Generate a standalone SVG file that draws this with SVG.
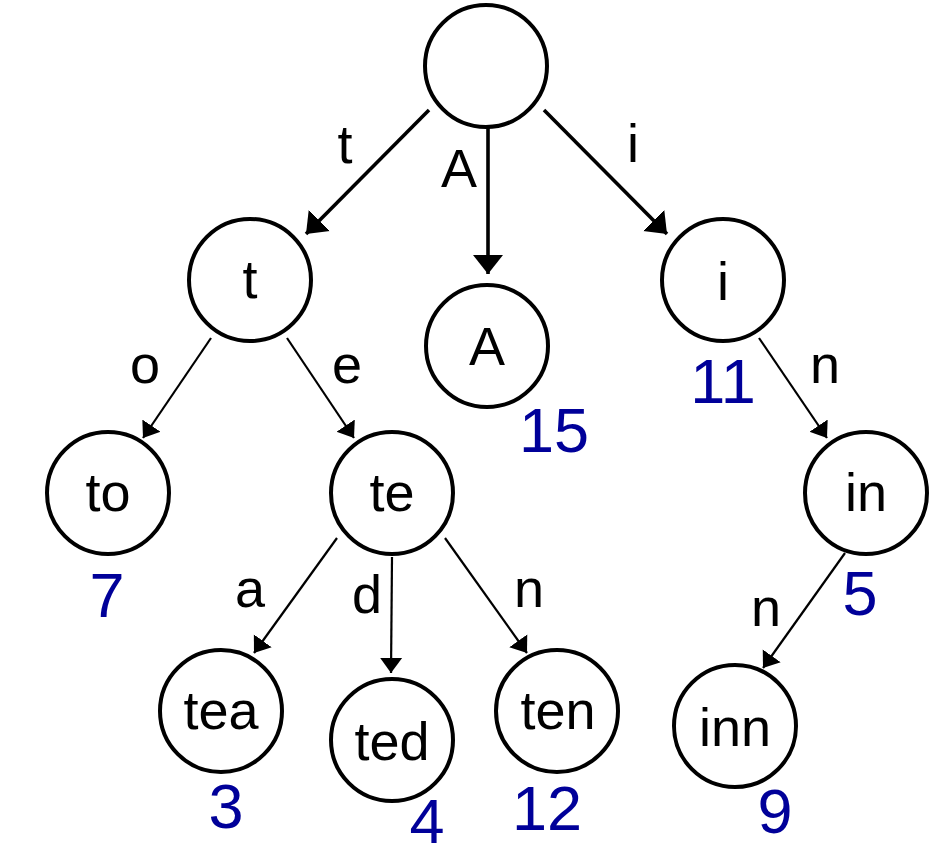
<svg xmlns="http://www.w3.org/2000/svg" width="944" height="852" viewBox="0 0 944 852">
<style>
.node circle{fill:#fff;stroke:#000;stroke-width:4}
text{font-family:"Liberation Sans",Arial,sans-serif;text-anchor:middle}
.lbl{font-size:54px;fill:#000}
.num{font-size:63px;fill:#000099}
.thick{stroke:#000;stroke-width:3.6;fill:none;marker-end:url(#ah1)}
.thin{stroke:#000;stroke-width:2.2;fill:none;marker-end:url(#ah2)}
</style>
<defs>
<marker id="ah1" markerUnits="userSpaceOnUse" markerWidth="20" markerHeight="32" viewBox="0 0 20 32" refX="19" refY="16" orient="auto"><path d="M0,1 L19,16 L0,31 Z" fill="#000"/></marker>
<marker id="ah2" markerUnits="userSpaceOnUse" markerWidth="16" markerHeight="24" viewBox="0 0 16 24" refX="15" refY="12" orient="auto"><path d="M0,1 L15,12 L0,23 Z" fill="#000"/></marker>
</defs>
<rect width="944" height="852" fill="#fff"/>
<g id="connectors">
<line class="thick" x1="429" y1="110" x2="306" y2="234"/>
<line class="thick" x1="488" y1="127" x2="488" y2="274"/>
<line class="thick" x1="544" y1="110" x2="667" y2="234"/>
<line class="thin" x1="211" y1="338" x2="143" y2="438"/>
<line class="thin" x1="287" y1="338" x2="354" y2="438"/>
<line class="thin" x1="759" y1="338" x2="827" y2="438"/>
<line class="thin" x1="337" y1="538" x2="254" y2="653"/>
<line class="thin" x1="392" y1="557" x2="391" y2="673"/>
<line class="thin" x1="445" y1="538" x2="527" y2="653"/>
<line class="thin" x1="845" y1="553" x2="763" y2="668"/>
<text class="lbl" x="345" y="163">t</text>
<text class="lbl" x="459" y="187">A</text>
<text class="lbl" x="633" y="162">i</text>
<text class="lbl" x="145" y="383">o</text>
<text class="lbl" x="347" y="383">e</text>
<text class="lbl" x="825" y="383">n</text>
<text class="lbl" x="250" y="607">a</text>
<text class="lbl" x="367" y="613">d</text>
<text class="lbl" x="529" y="607">n</text>
<text class="lbl" x="766" y="626">n</text>
</g>
<g id="root" class="node"><circle cx="486" cy="66" r="61"/></g>
<g id="n-t" class="node"><circle cx="250" cy="280" r="61"/><text class="lbl" x="250" y="298">t</text></g>
<g id="n-A" class="node"><circle cx="487" cy="346" r="61"/><text class="lbl" x="487" y="365">A</text><text class="num" x="554" y="452">15</text></g>
<g id="n-i" class="node"><circle cx="723" cy="280" r="61"/><text class="lbl" x="723" y="300">i</text><text class="num" x="723" y="403">11</text></g>
<g id="n-to" class="node"><circle cx="108" cy="493" r="61"/><text class="lbl" x="108" y="511">to</text><text class="num" x="107" y="617">7</text></g>
<g id="n-te" class="node"><circle cx="392" cy="493" r="61"/><text class="lbl" x="392" y="511">te</text></g>
<g id="n-in" class="node"><circle cx="866" cy="493" r="61"/><text class="lbl" x="866" y="511">in</text><text class="num" x="860" y="615">5</text></g>
<g id="n-tea" class="node"><circle cx="221" cy="711" r="61"/><text class="lbl" x="221" y="729">tea</text><text class="num" x="226" y="828">3</text></g>
<g id="n-ted" class="node"><circle cx="392" cy="740" r="61"/><text class="lbl" x="392" y="760">ted</text><text class="num" x="427" y="843">4</text></g>
<g id="n-ten" class="node"><circle cx="557" cy="711" r="61"/><text class="lbl" x="558" y="729">ten</text><text class="num" x="547" y="830">12</text></g>
<g id="n-inn" class="node"><circle cx="735" cy="726" r="61"/><text class="lbl" x="735" y="746">inn</text><text class="num" x="775" y="833">9</text></g>
</svg>
